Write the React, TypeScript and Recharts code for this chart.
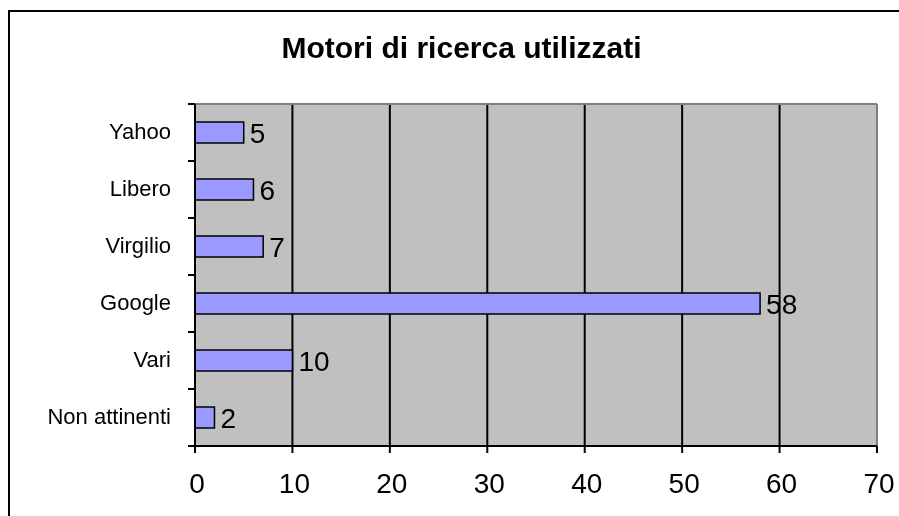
import React from 'react';
import { BarChart, Bar, XAxis, YAxis, CartesianGrid, LabelList } from 'recharts';

const categories = ['Yahoo', 'Libero', 'Virgilio', 'Google', 'Vari', 'Non attinenti'];
const values = [5, 6, 7, 58, 10, 2];
const xTicks = [0, 10, 20, 30, 40, 50, 60, 70];
const gridTicks = [10, 20, 30, 40, 50, 60];
const edgeXValues = [70];
const title = 'Motori di ricerca utilizzati';

const data = categories.map((name, i) => ({ name, value: values[i] }));

const FONT = '"Liberation Sans", Arial, sans-serif';

function CategoryTick(props: any) {
  const { x, y, payload, index, visibleTicksCount } = props;
  const half = payload?.offset ?? 0;
  const count = visibleTicksCount ?? categories.length;
  const isLast = index === count - 1;
  return (
    <g>
      <line x1={x - 7} x2={x} y1={y - half} y2={y - half} stroke="#000" strokeWidth={2} />
      {isLast && <line x1={x - 7} x2={x} y1={y + half} y2={y + half} stroke="#000" strokeWidth={2} />}
      <text x={x - 24} y={y - 1} dy="0.355em" textAnchor="end" fontSize={22} fill="#000" fontFamily={FONT}>
        {payload.value}
      </text>
    </g>
  );
}

export default function App() {
  return (
    <div
      style={{
        position: 'fixed',
        left: 8,
        top: 10,
        width: 889,
        height: 504,
        borderLeft: '2px solid #000',
        borderTop: '2px solid #000',
        fontFamily: FONT,
      }}
    >
      <BarChart
        width={889}
        height={504}
        data={data}
        layout="vertical"
        margin={{ top: 92, right: 22, bottom: 0, left: 0 }}
        barCategoryGap={0}
      >
        <XAxis
          type="number"
          domain={[0, 70]}
          ticks={xTicks}
          interval={0}
          height={70}
          tickSize={7}
          tickMargin={20}
          axisLine={{ stroke: '#000', strokeWidth: 2 }}
          tickLine={{ stroke: '#000', strokeWidth: 2 }}
          tick={{ fill: '#000', fontSize: 28, dx: 2 }}
        />
        <YAxis
          type="category"
          dataKey="name"
          width={185}
          interval={0}
          axisLine={{ stroke: '#000', strokeWidth: 2 }}
          tickLine={false}
          tickSize={0}
          tickMargin={0}
          tick={<CategoryTick />}
        />
        <CartesianGrid
          horizontal={false}
          vertical
          verticalValues={gridTicks}
          stroke="#000"
          strokeWidth={2}
          fill="#C0C0C0"
          fillOpacity={1}
        />
        <CartesianGrid
          vertical
          horizontal
          verticalValues={edgeXValues}
          horizontalCoordinatesGenerator={({ offset }: any) => [offset.top]}
          stroke="#808080"
          strokeWidth={2}
        />
        <Bar
          dataKey="value"
          fill="#9999FF"
          stroke="#000"
          strokeWidth={1.5}
          barSize={21}
          isAnimationActive={false}
        >
          <LabelList dataKey="value" position="right" offset={6} fill="#000" fontSize={28} dy={1} />
        </Bar>
      </BarChart>
      <svg
        width={889}
        height={80}
        style={{ position: 'absolute', left: 0, top: 0, pointerEvents: 'none' }}
      >
        <text x={451.5} y={46} textAnchor="middle" fontSize={30} fontWeight="bold" fill="#000" fontFamily={FONT}>
          {title}
        </text>
      </svg>
    </div>
  );
}
